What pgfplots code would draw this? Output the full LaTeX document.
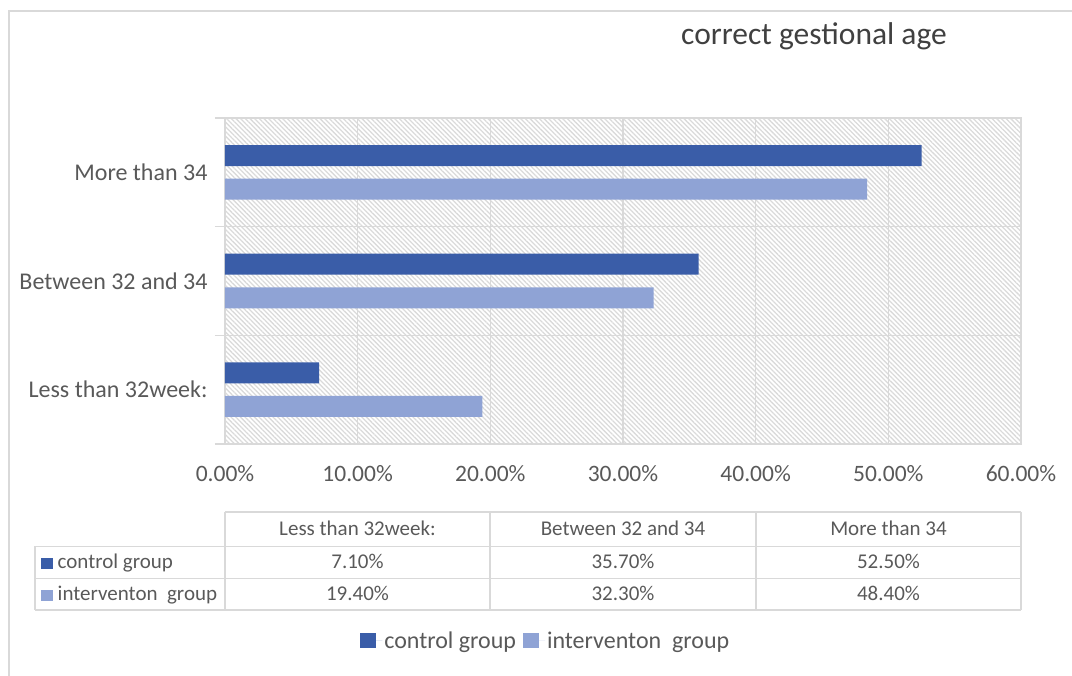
\documentclass[border=0pt]{standalone}
\usepackage{pgfplots}
\pgfplotsset{compat=1.18}
\usepackage{pgfplotstable}
\usepackage{fontspec}
\setmainfont{Carlito}
\usetikzlibrary{patterns.meta}
\definecolor{ctrl}{RGB}{58,93,168}
\definecolor{intv}{RGB}{143,163,213}
\definecolor{gridc}{RGB}{217,217,217}
\definecolor{txt}{RGB}{89,89,89}
\definecolor{ttl}{RGB}{64,64,64}
\definecolor{hatch}{RGB}{218,218,218}

\pgfplotstableread{
cat ctrl intv
0 7.1 19.4
1 35.7 32.3
2 52.5 48.4
}\datatable

\begin{document}
\begin{tikzpicture}[x=1bp,y=1bp]
\begin{axis}[
  scale only axis, width=796bp, height=326bp,
  xbar, bar width=0.193,
  xmin=0, xmax=60, ymin=-0.5, ymax=2.5,
  xtick={0,10,...,60},
  xticklabels={0.00\%,10.00\%,20.00\%,30.00\%,40.00\%,50.00\%,60.00\%},
  ytick={0,1,2},
  yticklabels={Less than 32week:,Between 32 and 34,More than 34},
  minor ytick={-0.5,0.5,1.5,2.5},
  xmajorgrids, yminorgrids,
  grid style={gridc, line width=1.2bp},
  minor grid style={gridc, line width=1.2bp},
  axis line style={gridc, line width=1.2bp},
  major tick length=0pt,
  minor tick length=10bp,
  tick align=outside,
  ytick pos=left, xtick pos=bottom,
  minor tick style={gridc, line width=1.2bp},
  axis background/.style={pattern={Lines[angle=-45,distance=3.3bp,line width=1.3bp]}, pattern color=hatch},
  ticklabel style={text=txt},
  xticklabel style={font=\fontsize{23.5bp}{28bp}\selectfont, yshift=-18bp},
  yticklabel style={font=\fontsize{24bp}{28bp}\selectfont, xshift=-14bp},
  legend style={at={(0.4030,-0.604)}, anchor=center, draw=none, fill=none,
    legend columns=2, font=\fontsize{24bp}{28bp}\selectfont, text=txt,
    /tikz/every even column/.append style={column sep=5bp}},
  mylegend/.style={legend image code/.code={\fill[##1] (0bp,-7.5bp) rectangle (15.5bp,7.5bp); \path (0bp,0bp) -- (22bp,0bp);}},
]
\addplot[fill=ctrl, draw=none, bar shift=0.1546, mylegend] table[x=ctrl, y=cat] {\datatable};
\addplot[fill=intv, draw=none, bar shift=-0.1546, mylegend] table[x=intv, y=cat] {\datatable};
\legend{control group, interventon\ \ group}
\coordinate (O) at (rel axis cs:0,0);
\end{axis}
\begin{scope}[shift={(O)}, shift={(-225,444)}]
\draw[gridc, line width=1.5bp] (9,-676) -- (9,-11) -- (1072,-11);
\node[anchor=base, text=ttl, font=\fontsize{31.5bp}{36bp}\selectfont] at (814,-45) {correct gestional age};
% data table below the chart
\begin{scope}[gridc, line width=1.5bp]
\draw (225,-512) -- (1021,-512);
\draw (35,-546.5) -- (1021,-546.5);
\draw (35,-578.5) -- (1021,-578.5);
\draw (35,-610) -- (1021,-610);
\draw (35,-546.5) -- (35,-610);
\foreach \x in {225,490,756,1021} \draw (\x,-512) -- (\x,-610);
\end{scope}
\begin{scope}[every node/.style={text=txt, font=\fontsize{21bp}{25bp}\selectfont, inner sep=0pt}]
\node[anchor=base] at (357.5,-536) {Less than 32week:};
\node[anchor=base] at (623,-536) {Between 32 and 34};
\node[anchor=base] at (888.5,-536) {More than 34};
\fill[ctrl] (41.5,-558) rectangle (53.5,-569);
\node[anchor=base west] at (57.5,-569) {control group};
\node[anchor=base] at (357.5,-569) {7.10\%};
\node[anchor=base] at (623,-569) {35.70\%};
\node[anchor=base] at (888.5,-569) {52.50\%};
\fill[intv] (41.5,-590) rectangle (53.5,-601);
\node[anchor=base west] at (57.5,-601) {interventon\ \ group};
\node[anchor=base] at (357.5,-601) {19.40\%};
\node[anchor=base] at (623,-601) {32.30\%};
\node[anchor=base] at (888.5,-601) {48.40\%};
\end{scope}
\pgfresetboundingbox
\path[use as bounding box] (0,0) rectangle (1072,-676);
\end{scope}
\end{tikzpicture}
\end{document}
